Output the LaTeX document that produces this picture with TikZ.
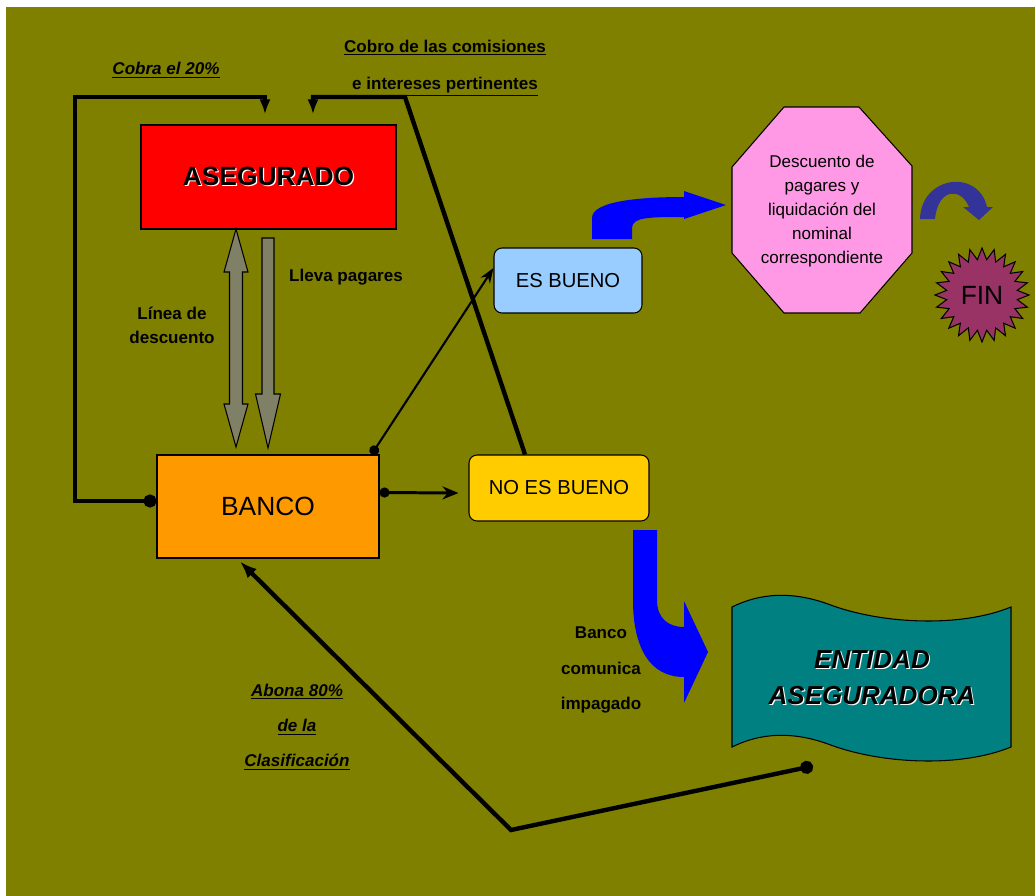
\documentclass[tikz,border=0pt]{standalone}
\usepackage{fontspec}
\setmainfont{Liberation Sans}
\usepackage{xcolor}
\usetikzlibrary{arrows.meta, positioning, shapes.geometric}

\definecolor{olivebg}{RGB}{128,128,0}
\definecolor{orangebox}{RGB}{255,153,0}
\definecolor{skybox}{RGB}{153,204,255}
\definecolor{goldbox}{RGB}{255,204,0}
\definecolor{pinkbox}{RGB}{255,153,230}
\definecolor{plumstar}{RGB}{153,51,102}
\definecolor{tealflag}{RGB}{0,128,128}
\definecolor{slatearc}{RGB}{51,51,153}
\definecolor{grayarrow}{RGB}{128,128,102}

\newcommand{\embossed}[1]{\makebox[0pt][l]{\kern0.7pt\raisebox{-0.7pt}{\color{white}#1}}#1}

\begin{document}
\begin{tikzpicture}[x=0.02cm, y=-0.02cm,
  rect/.style={draw, line width=0.6pt, inner sep=0pt},
  pill/.style={draw, line width=0.6pt, rounded corners=0.16cm, inner sep=0pt,
               font=\fontsize{11.5}{14}\selectfont},
  lbl/.style={align=center, inner sep=0pt, font=\fontsize{9.7}{12}\selectfont\bfseries},
  fat/.style={line width=2.5pt},
  mid/.style={line width=1.7pt},
  slim/.style={line width=1.2pt},
  grayarr/.style={draw, line width=0.6pt, fill=grayarrow}
]
\useasboundingbox (0,0) rectangle (1035,896);
\fill[white] (0,0) rectangle (1035,896);
\fill[olivebg] (6,7) rectangle (1035,896);

% Asegurado y banco
\node[rect, fill=red, minimum width=5.1cm, minimum height=2.08cm,
      font=\fontsize{15}{18}\selectfont\bfseries] (aseg) at (268.5,177) {\embossed{ASEGURADO}};
\node[rect, fill=orangebox, minimum width=4.44cm, minimum height=2.06cm,
      font=\fontsize{15}{18}\selectfont] (banco) at (268,506.5) {BANCO};

% Linea de descuento / lleva pagares
\filldraw[grayarr] (236,229) -- (248,272) -- (242.5,272) -- (242.5,404) -- (248,404) -- (236,447)
  -- (224,404) -- (229.5,404) -- (229.5,272) -- (224,272) -- cycle;
\filldraw[grayarr] (262,238) -- (274,238) -- (274,394) -- (280.5,394) -- (268,448)
  -- (255.5,394) -- (262,394) -- cycle;
\node[lbl, font=\fontsize{9.7}{13.6}\selectfont\bfseries] (linea) at (172,325) {Línea de\\descuento};
\node[lbl] (lleva) at (346,277) {Lleva pagares};

% Resultado
\node[pill, fill=skybox, minimum width=2.96cm, minimum height=1.3cm] (esbueno) at (568,280.5) {ES BUENO};
\node[pill, fill=goldbox, minimum width=3.6cm, minimum height=1.32cm] (nobueno) at (559,488) {NO ES BUENO};

% Descuento de pagares
\filldraw[fill=pinkbox, line width=0.6pt] (784,107) -- (859,107) -- (912,166) -- (912,253)
  -- (860,313) -- (784,313) -- (732,253) -- (732,167) -- cycle;
\node[align=center, font=\fontsize{9.7}{13.6}\selectfont] (desc) at (822,211)
  {Descuento de\\pagares y\\liquidación del\\nominal\\correspondiente};
\fill[blue] (592,239) -- (592,218) .. controls (592,201) and (640,197) .. (684,197) -- (684,191)
  -- (726,205) -- (684,219) -- (684,217) .. controls (650,217) and (632,217) .. (632,228)
  -- (632,239) -- cycle;

% Fin
\fill[slatearc] (920,219) .. controls (921,176) and (978,168) .. (987,207) -- (993,207) -- (979,220)
  -- (963,207) -- (969,207) .. controls (961,187) and (938,188) .. (935,219) -- cycle;
\node[star, star points=24, star point ratio=1.32, minimum size=1.88cm, inner sep=0pt, draw,
      line width=0.6pt, fill=plumstar, font=\fontsize{15}{18}\selectfont] (fin) at (982,295) {FIN};

% Entidad aseguradora
\fill[blue] (633,530) -- (657,530) -- (657,600) .. controls (657,618) and (668,627) .. (684,627)
  -- (684,601) -- (708,652) -- (684,703) -- (684,677) .. controls (650,677) and (633,648) .. (633,600)
  -- cycle;
\node[lbl, font=\fontsize{9.7}{20}\selectfont\bfseries] (comunica) at (601,670) {Banco\\comunica\\impagado};
\filldraw[fill=tealflag, line width=0.6pt] (732,607) .. controls (760,593) and (792,591) .. (828,604)
  .. controls (880,624) and (960,628) .. (1011,607) -- (1011,747)
  .. controls (960,768) and (880,764) .. (828,744) .. controls (792,731) and (760,733) .. (732,747) -- cycle;
\node[align=center, font=\fontsize{14.8}{20.5}\selectfont\bfseries\itshape] (ent) at (872,678)
  {\embossed{ENTIDAD}\\\embossed{ASEGURADORA}};
\coordinate (flagdot) at (813,766);

% Etiquetas
\node[lbl, font=\fontsize{9.7}{12}\selectfont\bfseries\itshape] (cobra) at (166,70) {\underline{Cobra el 20\%}};
\node[lbl, font=\fontsize{9.7}{21}\selectfont\bfseries] (cobro) at (445,68)
  {\underline{Cobro de las comisiones}\\\underline{e intereses pertinentes}};
\node[lbl, font=\fontsize{9.7}{20}\selectfont\bfseries\itshape] (abona) at (297,727)
  {\underline{Abona 80\%}\\\underline{de la}\\\underline{Clasificación}};

% Conectores
\draw[fat, {Circle[length=0.26cm]}-{Latex[length=0.3cm, width=0.22cm]}]
  ([yshift=0.11cm]banco.west) -| (75,97) -| ([xshift=-0.07cm, yshift=0.2cm]aseg.north);
\draw[fat, -{Latex[length=0.3cm, width=0.22cm]}]
  ([xshift=-0.68cm]nobueno.north) -- (405,97) -| ([xshift=0.89cm, yshift=0.2cm]aseg.north);
\draw[mid, {Circle[length=0.2cm]}-{Stealth[length=0.32cm, width=0.26cm]}]
  ([yshift=0.28cm]banco.east) -- ([yshift=-0.1cm, xshift=-0.2cm]nobueno.west);
\draw[slim, {Circle[length=0.2cm]}-{Stealth[length=0.3cm, width=0.22cm]}]
  ([xshift=-0.16cm]banco.north east) -- ([yshift=0.25cm]esbueno.west);
\draw[fat, {Circle[length=0.26cm]}-{Latex[length=0.34cm, width=0.26cm]}]
  (flagdot) -- (511,830) -- ([xshift=-0.56cm, yshift=-0.06cm]banco.south);
\end{tikzpicture}
\end{document}
